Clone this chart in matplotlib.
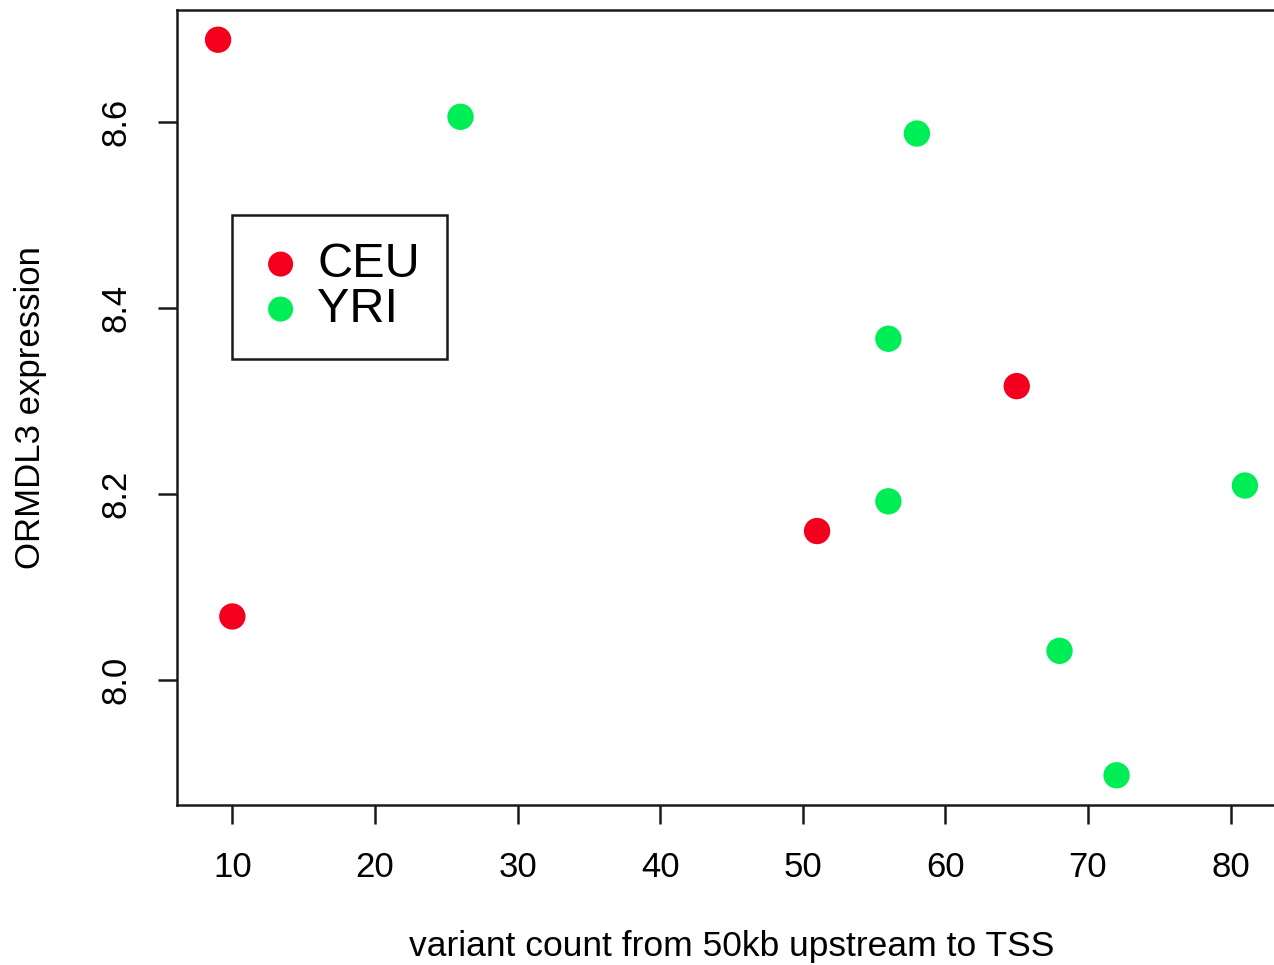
import matplotlib
matplotlib.use("Agg")
import matplotlib.pyplot as plt

plt.rcParams['font.family'] = ['Liberation Sans', 'DejaVu Sans']

# data
ceu_x = [9, 10, 51, 65]
ceu_y = [8.689, 8.068, 8.160, 8.316]
yri_x = [26, 58, 56, 56, 81, 68, 72]
yri_y = [8.606, 8.588, 8.367, 8.192, 8.209, 8.031, 7.897]
x_ticks = [10, 20, 30, 40, 50, 60, 70, 80]
y_ticks = [8.0, 8.2, 8.4, 8.6]

red = '#F4001E'
green = '#00EE55'
dark = '#1a1a1a'

fig = plt.figure(figsize=(12.74, 9.65), dpi=100)
ax = fig.add_axes([177 / 1274, 1 - 805 / 965, 1109 / 1274, 795 / 965])

ax.scatter(ceu_x, ceu_y, s=360, color=red, edgecolors='none', label='CEU', zorder=3)
ax.scatter(yri_x, yri_y, s=360, color=green, edgecolors='none', label='YRI', zorder=3)

ax.set_xlim(6.12, 83.88)
ax.set_ylim(7.865, 8.721)
ax.set_xticks(x_ticks)
ax.set_yticks(y_ticks)
ax.set_yticklabels([f"{v:.1f}" for v in y_ticks], rotation=90, va='center')

for s in ax.spines.values():
    s.set_linewidth(1.8)
    s.set_color(dark)

ax.tick_params(axis='both', length=14, width=1.8, color=dark, labelsize=25, pad=19)
ax.tick_params(axis='y', pad=18)
ax.set_xlabel("variant count from 50kb upstream to TSS", fontsize=25.5, labelpad=33)
ax.set_ylabel("ORMDL3 expression", fontsize=25, labelpad=38)

leg = ax.legend(loc='upper left', bbox_to_anchor=(0.0496, 0.742), fontsize=35,
                frameon=True, fancybox=False, framealpha=1, edgecolor=dark,
                handletextpad=0.3, borderpad=0.55, labelspacing=0.0,
                markerscale=0.95, handlelength=0.9, borderaxespad=0)
leg.get_frame().set_linewidth(1.8)

fig.savefig("out.png", dpi=100)
